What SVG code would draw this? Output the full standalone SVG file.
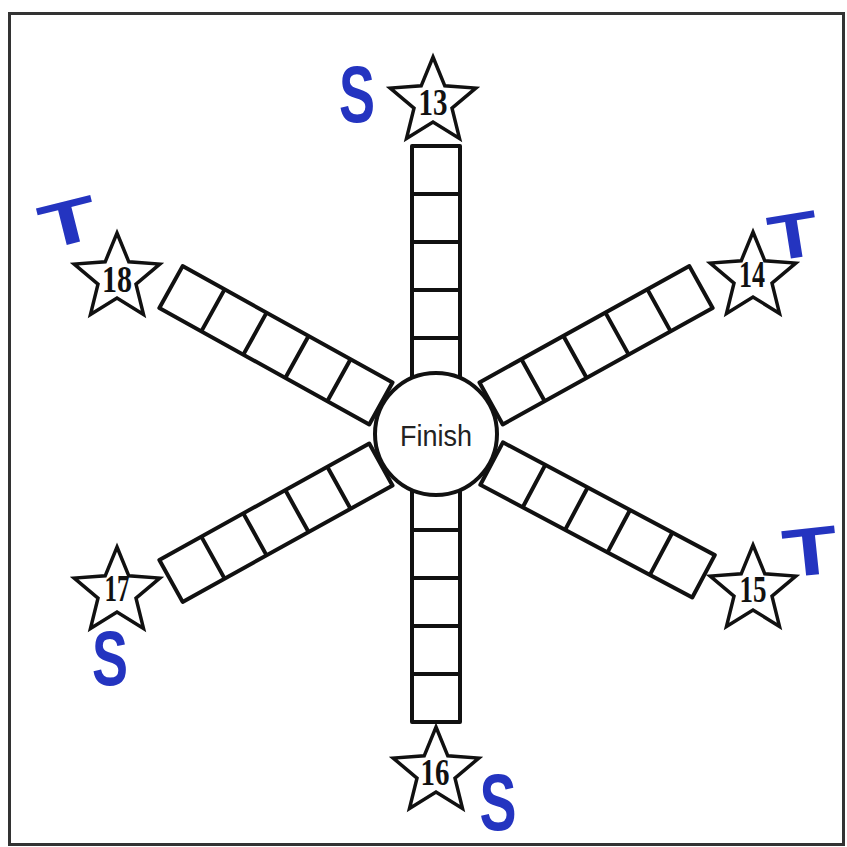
<svg xmlns="http://www.w3.org/2000/svg" width="847" height="847" viewBox="0 0 847 847">
<defs>
<style>
.trk{fill:#fff;stroke:#111;stroke-width:4;stroke-linejoin:round}
.div{fill:none;stroke:#111;stroke-width:4}
.star{fill:#fff;stroke:#111;stroke-width:3.5;stroke-linejoin:miter}
.num{font-family:"Liberation Serif","DejaVu Serif",serif;font-size:38px;font-weight:bold;fill:#111;text-anchor:middle}
.lt{font-family:"Liberation Sans","DejaVu Sans",sans-serif;font-weight:bold;fill:#2434c0;text-anchor:middle}
</style>
<polygon id="st" points="0,-45 11.8,-16.2 42.8,-13.9 19.0,6.2 26.5,36.4 0,20 -26.5,36.4 -19.0,6.2 -42.8,-13.9 -11.8,-16.2"/>
</defs>
<rect x="0" y="0" width="847" height="847" fill="#fff"/>
<rect x="9.5" y="13.5" width="834" height="831" fill="none" stroke="#333" stroke-width="3"/>

<g id="connectors">
<g id="arm-top" transform="translate(436,434) rotate(-90)"><rect class="trk" x="48" y="-24" width="240" height="48"/><path class="div" d="M96,-24V24M144,-24V24M192,-24V24M240,-24V24"/></g>
<g id="arm-bottom" transform="translate(436,434) rotate(90)"><rect class="trk" x="48" y="-24" width="240" height="48"/><path class="div" d="M96,-24V24M144,-24V24M192,-24V24M240,-24V24"/></g>
<g id="arm-upleft" transform="translate(436,434) rotate(-151)"><rect class="trk" x="63" y="-24" width="240" height="48"/><path class="div" d="M111,-24V24M159,-24V24M207,-24V24M255,-24V24"/></g>
<g id="arm-downleft" transform="translate(436,434) rotate(151)"><rect class="trk" x="63" y="-24" width="240" height="48"/><path class="div" d="M111,-24V24M159,-24V24M207,-24V24M255,-24V24"/></g>
<g id="arm-upright" transform="translate(436,434) rotate(-29)"><rect class="trk" x="63" y="-24" width="240" height="48"/><path class="div" d="M111,-24V24M159,-24V24M207,-24V24M255,-24V24"/></g>
<g id="arm-downright" transform="translate(436,434) rotate(28)"><rect class="trk" x="63" y="-24" width="240" height="48"/><path class="div" d="M111,-24V24M159,-24V24M207,-24V24M255,-24V24"/></g>
</g>

<g id="finish">
<circle cx="436" cy="434" r="61" fill="#fff" stroke="#111" stroke-width="4"/>
<text x="436" y="446" font-family="'Liberation Sans','DejaVu Sans',sans-serif" font-size="29" fill="#222" text-anchor="middle" textLength="72" lengthAdjust="spacingAndGlyphs">Finish</text>
</g>

<g id="star13"><use href="#st" class="star" transform="translate(433,102)"/><text class="num" x="433" y="115" textLength="29" lengthAdjust="spacingAndGlyphs">13</text></g>
<g id="star14"><use href="#st" class="star" transform="translate(753,277)"/><text class="num" x="752" y="287" textLength="26" lengthAdjust="spacingAndGlyphs">14</text></g>
<g id="star15"><use href="#st" class="star" transform="translate(753,590)"/><text class="num" x="753" y="602" textLength="27" lengthAdjust="spacingAndGlyphs">15</text></g>
<g id="star16"><use href="#st" class="star" transform="translate(436,772)"/><text class="num" x="435" y="785" textLength="29" lengthAdjust="spacingAndGlyphs">16</text></g>
<g id="star17"><use href="#st" class="star" transform="translate(117,592)"/><text class="num" x="117" y="601" textLength="25" lengthAdjust="spacingAndGlyphs">17</text></g>
<g id="star18"><use href="#st" class="star" transform="translate(117,278)"/><text class="num" x="117" y="292" textLength="30" lengthAdjust="spacingAndGlyphs">18</text></g>

<g id="letter-s13"><text class="lt" x="357" y="122" font-size="80" textLength="36" lengthAdjust="spacingAndGlyphs">S</text></g>
<g id="letter-s17"><text class="lt" x="110" y="685" font-size="78" textLength="36" lengthAdjust="spacingAndGlyphs">S</text></g>
<g id="letter-s16"><text class="lt" x="498" y="830" font-size="80" textLength="37" lengthAdjust="spacingAndGlyphs">S</text></g>
<g id="letter-t18"><text class="lt" x="68" y="244" font-size="62" textLength="58" lengthAdjust="spacingAndGlyphs" transform="rotate(-14 68 222)">T</text></g>
<g id="letter-t14"><text class="lt" x="793" y="258" font-size="64" textLength="50" lengthAdjust="spacingAndGlyphs" transform="rotate(-9 793 234)">T</text></g>
<g id="letter-t15"><text class="lt" x="810" y="575" font-size="68" textLength="55" lengthAdjust="spacingAndGlyphs" transform="rotate(-6 810 549)">T</text></g>
</svg>
